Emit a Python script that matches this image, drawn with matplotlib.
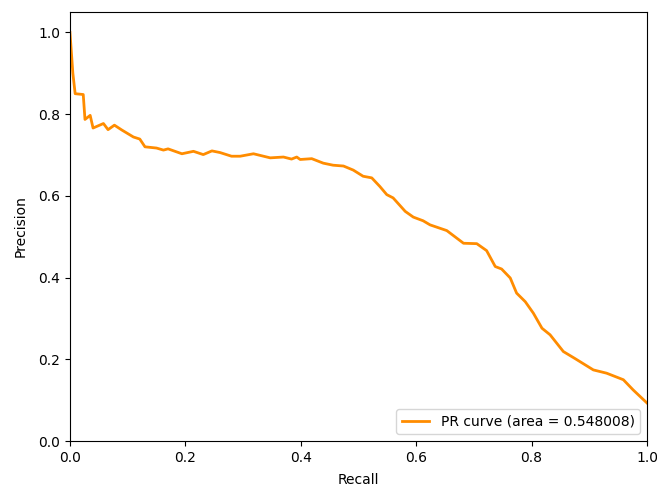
import matplotlib
matplotlib.use("Agg")
import matplotlib.pyplot as plt
import numpy as np

# precision-recall points
recall = [
    0.000, 0.005, 0.009, 0.023, 0.026, 0.035, 0.040, 0.058, 0.066, 0.077, 0.090,
    0.110, 0.121, 0.130, 0.150, 0.162, 0.170, 0.194, 0.214, 0.231, 0.246,
    0.260, 0.280, 0.295, 0.318, 0.347, 0.370, 0.384, 0.393, 0.399, 0.419,
    0.439, 0.456, 0.474, 0.491, 0.508, 0.523, 0.537, 0.549, 0.560, 0.581,
    0.595, 0.612, 0.624, 0.653, 0.682, 0.705, 0.722, 0.737, 0.748, 0.763,
    0.774, 0.789, 0.803, 0.818, 0.832, 0.855, 0.875, 0.907, 0.930, 0.959,
    0.976, 1.000,
]
precision = [
    1.000, 0.900, 0.850, 0.848, 0.787, 0.797, 0.766, 0.777, 0.762, 0.773, 0.761,
    0.744, 0.739, 0.720, 0.717, 0.712, 0.715, 0.703, 0.709, 0.701, 0.710,
    0.706, 0.697, 0.697, 0.703, 0.693, 0.695, 0.690, 0.695, 0.689, 0.691,
    0.680, 0.675, 0.673, 0.663, 0.648, 0.644, 0.623, 0.603, 0.595, 0.562,
    0.548, 0.539, 0.529, 0.515, 0.484, 0.483, 0.466, 0.427, 0.421, 0.399,
    0.362, 0.341, 0.313, 0.276, 0.260, 0.219, 0.202, 0.174, 0.166, 0.150,
    0.125, 0.093,
]
pr_auc = 0.548008

fig = plt.figure(figsize=(6.57, 4.91), dpi=100)
ax = fig.add_axes([0.1065, 0.1018, 0.8783, 0.8738])

ax.plot(recall, precision, color="darkorange", lw=2,
        label=f"PR curve (area = {pr_auc:.6f})")
ax.set_xlim(0.0, 1.0)
ax.set_ylim(0.0, 1.05)
ax.set_xlabel("Recall", labelpad=6)
ax.set_ylabel("Precision", labelpad=8)
ax.legend(loc="lower right")

fig.savefig("out.png", dpi=100)
